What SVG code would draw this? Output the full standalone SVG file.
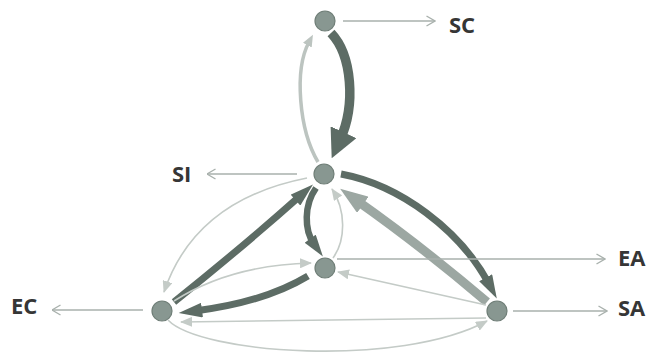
<svg xmlns="http://www.w3.org/2000/svg" width="648" height="356" viewBox="0 0 648 356">
<style>
.lbl{font-family:"Open Sans","Liberation Sans",sans-serif;font-weight:700;font-size:22px;fill:#363636}
.node{fill:#889791;stroke:#6f7e77;stroke-width:1.2}
.dk{fill:none;stroke:#5d6c65}
.md{fill:none;stroke:#9ca7a2}
.lt{fill:none;stroke:#bcc4c0}
.th{fill:none;stroke:#c4cbc7;stroke-width:1.6}
.out{fill:none;stroke:#a9b1ad;stroke-width:1.4}
</style>
<defs>
<marker id="dW" viewBox="0 0 10 10" refX="3" refY="5" markerWidth="3" markerHeight="3" orient="auto" markerUnits="strokeWidth"><path d="M0,0 L10,5 L0,10 z" fill="#5d6c65"/></marker>
<marker id="dN" viewBox="0 0 16 10" refX="4.8" refY="5" markerWidth="3.4" markerHeight="2.1" orient="auto" markerUnits="strokeWidth"><path d="M0,0 L16,5 L0,10 z" fill="#5d6c65"/></marker>
<marker id="mH" viewBox="0 0 14 10" refX="4.2" refY="5" markerWidth="3.1" markerHeight="2.2" orient="auto" markerUnits="strokeWidth"><path d="M0,0 L14,5 L0,10 z" fill="#9ca7a2"/></marker>
<marker id="lH" viewBox="0 0 12 10" refX="3.6" refY="5" markerWidth="3.4" markerHeight="3" orient="auto" markerUnits="strokeWidth"><path d="M0,0 L12,5 L0,10 z" fill="#bcc4c0"/></marker>
<marker id="tH" viewBox="0 0 12 10" refX="11" refY="5" markerWidth="12" markerHeight="10" orient="auto" markerUnits="userSpaceOnUse"><path d="M0,0 L12,5 L0,10 z" fill="#c4cbc7"/></marker>
<marker id="oH" viewBox="0 0 10 12" refX="9.5" refY="6" markerWidth="10" markerHeight="12" orient="auto" markerUnits="userSpaceOnUse"><path d="M1,1 L9.5,6 L1,11" fill="none" stroke="#a9b1ad" stroke-width="1.4"/></marker>
</defs>
<g id="connectors">
<path class="dk" stroke-width="9.5" d="M331,33 C352,55 356,105 340,140" marker-end="url(#dW)"/>
<path class="lt" stroke-width="3.5" d="M318,162 C299,130 294,70 309,42" marker-end="url(#lH)"/>
<path class="dk" stroke-width="7" d="M341,174 C400,185 460,230 489,284" marker-end="url(#dN)"/>
<path class="md" stroke-width="9" d="M487,302 Q420,245 356,200" marker-end="url(#mH)"/>
<path class="th" d="M307,178 Q195,200 164,292" marker-end="url(#tH)"/>
<path class="dk" stroke-width="7" d="M174,302 Q245,245 300.7,195.4" marker-end="url(#dN)"/>
<path class="dk" stroke-width="6.5" d="M316,188 C304,205 304,230 314,244" marker-end="url(#dN)"/>
<path class="th" d="M333,258 C346,240 346,210 332,189" marker-end="url(#tH)"/>
<path class="dk" stroke-width="7" d="M308,276 Q265,302 195,311" marker-end="url(#dN)"/>
<path class="th" d="M174,301 Q230,265 311,263" marker-end="url(#tH)"/>
<path class="th" d="M486,305 L338,272" marker-end="url(#tH)"/>
<path class="th" d="M486,318 L181,322" marker-end="url(#tH)"/>
<path class="th" d="M168,320 C200,354 400,368 487,321" marker-end="url(#tH)"/>
<path class="out" d="M343,21 L435,21" marker-end="url(#oH)"/>
<path class="out" d="M297,174 L207,174" marker-end="url(#oH)"/>
<path class="out" d="M337,259 L605,259" marker-end="url(#oH)"/>
<path class="out" d="M513,311 L607,311" marker-end="url(#oH)"/>
<path class="out" d="M143,310 L52,310" marker-end="url(#oH)"/>
</g>
<g id="node-SC"><circle class="node" cx="325" cy="21" r="10"/><text class="lbl" x="449" y="33">SC</text></g>
<g id="node-SI"><circle class="node" cx="324" cy="174" r="10"/><text class="lbl" x="172" y="182">SI</text></g>
<g id="node-EA"><circle class="node" cx="325" cy="268" r="10"/><text class="lbl" x="618" y="266">EA</text></g>
<g id="node-EC"><circle class="node" cx="162" cy="311" r="10"/><text class="lbl" x="11" y="314">EC</text></g>
<g id="node-SA"><circle class="node" cx="497" cy="311" r="10"/><text class="lbl" x="618" y="316">SA</text></g>
</svg>
